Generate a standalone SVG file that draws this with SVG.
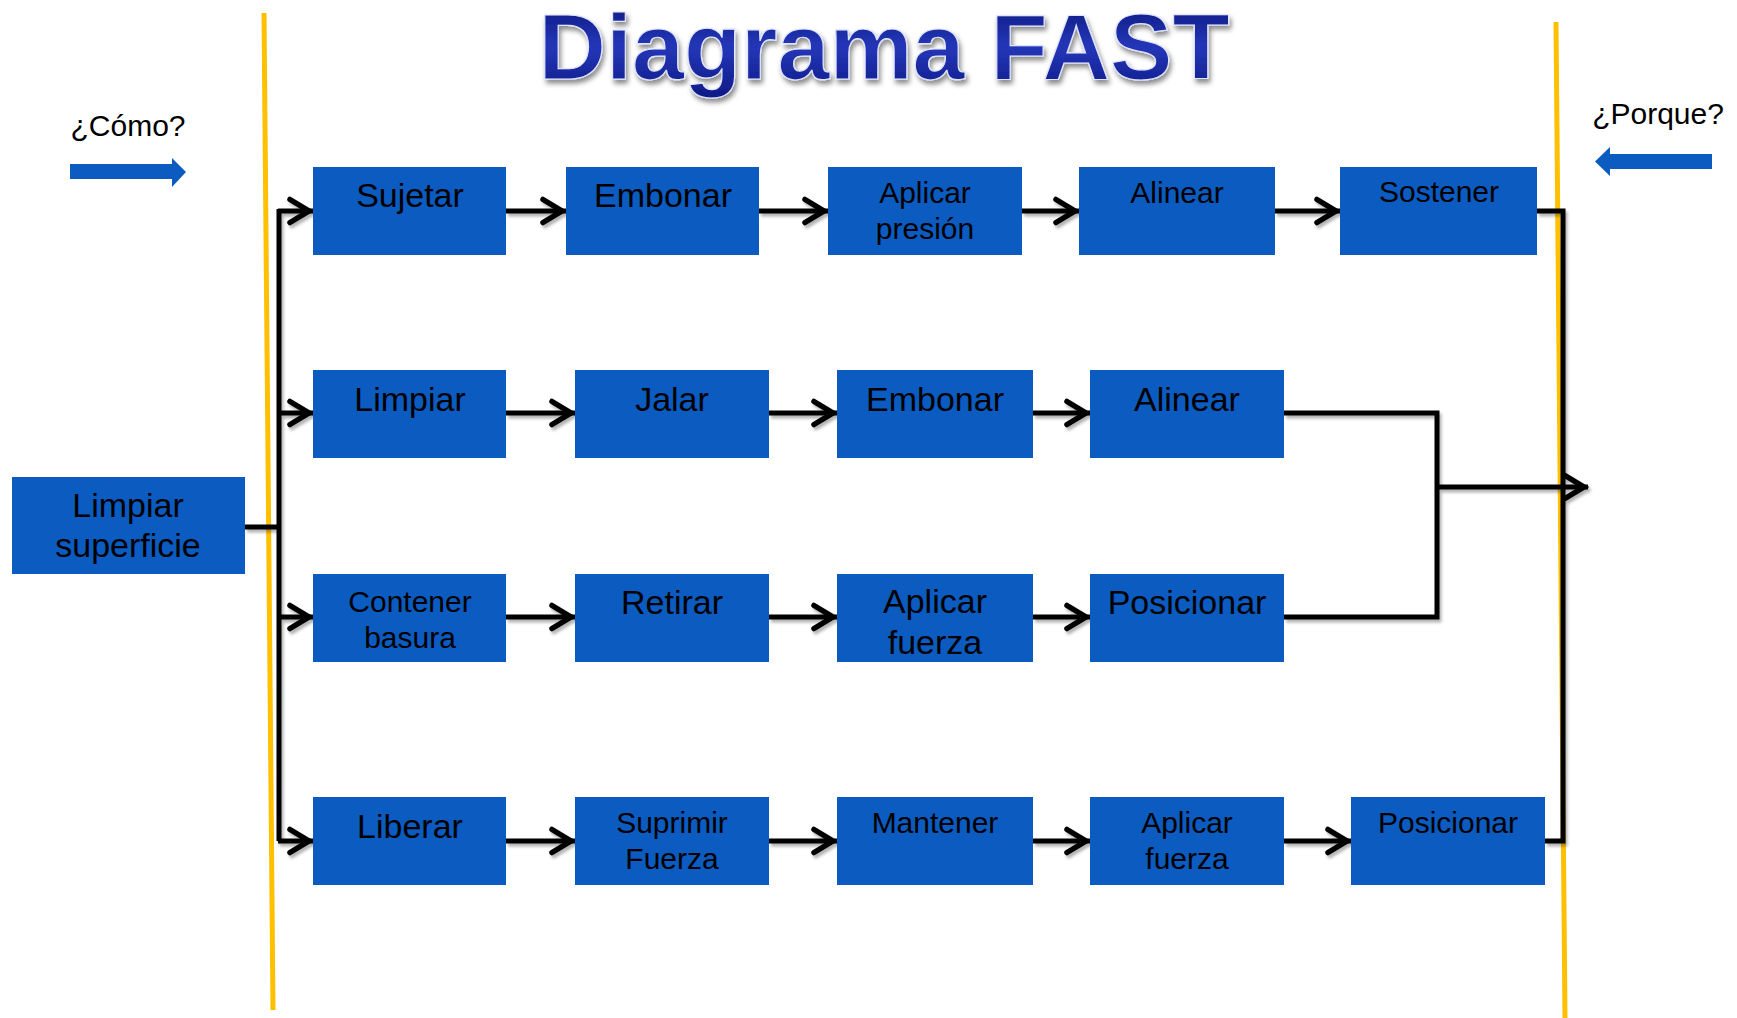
<svg xmlns="http://www.w3.org/2000/svg" width="1737" height="1018" viewBox="0 0 1737 1018">
<style>
.box{fill:#0B5BC1}
.t{font-family:"Liberation Sans",Arial,sans-serif;fill:#000;text-anchor:middle}
.s30{font-size:30px}
.s34{font-size:34px}
.c{fill:none;stroke:#000;stroke-width:5;stroke-linejoin:miter}
.ar{marker-end:url(#ah)}
.yl{stroke:#FFC000;stroke-width:5;fill:none}
</style>
<defs>
<marker id="ah" markerUnits="userSpaceOnUse" markerWidth="32" markerHeight="32" viewBox="-28 -16 32 32" refX="0" refY="0" orient="auto">
<path d="M-23 -11.5 L-4 0 L-23 11.5" fill="none" stroke="#000" stroke-width="5.5" stroke-linecap="round" stroke-linejoin="miter"/>
</marker>
<filter id="sh" x="-5%" y="-5%" width="110%" height="110%">
<feDropShadow dx="2" dy="3" stdDeviation="1.5" flood-color="#000" flood-opacity="0.3"/>
</filter>
<filter id="tsh" filterUnits="userSpaceOnUse" x="500" y="0" width="780" height="120">
<feDropShadow dx="2" dy="4" stdDeviation="2.5" flood-color="#000" flood-opacity="0.45"/>
</filter>
<linearGradient id="tg" x1="0" y1="0" x2="0" y2="1">
<stop offset="0" stop-color="#0A1675"/>
<stop offset="0.5" stop-color="#2436B8"/>
<stop offset="1" stop-color="#0E1A84"/>
</linearGradient>
</defs>
<rect width="1737" height="1018" fill="#fff"/>

<g id="title">
<text x="884" y="79" font-family="'Liberation Sans',Arial,sans-serif" font-weight="bold" font-size="93.5" text-anchor="middle" fill="url(#tg)" stroke="#dfe4ff" stroke-width="1.2" filter="url(#tsh)">Diagrama FAST</text>
</g>

<g id="guides">
<line class="yl" x1="264" y1="13" x2="273" y2="1010"/>
<line class="yl" x1="1556" y1="22" x2="1565" y2="1018"/>
</g>

<g id="como">
<text class="t s30" x="128" y="136">¿Cómo?</text>
<path d="M70 164 H172 V158 L186 172 L172 187 V179 H70 Z" fill="#0B5BC1"/>
</g>
<g id="porque">
<text class="t s30" x="1658" y="124">¿Porque?</text>
<path d="M1712 154 H1610 V147 L1595 161.5 L1610 176 V169 H1712 Z" fill="#0B5BC1"/>
</g>

<g id="connectors" filter="url(#sh)">
<path class="c" d="M245 527 H279"/>
<path class="c" d="M279 209 V841"/>
<path class="c ar" d="M278 211 H313"/>
<path class="c ar" d="M278 413 H313"/>
<path class="c ar" d="M278 617 H313"/>
<path class="c ar" d="M278 841 H313"/>
<path class="c ar" d="M506 211 H566"/>
<path class="c ar" d="M759 211 H828"/>
<path class="c ar" d="M1022 211 H1079"/>
<path class="c ar" d="M1275 211 H1340"/>
<path class="c" d="M1537 211 H1563 V841 H1545"/>
<path class="c ar" d="M506 413 H575"/>
<path class="c ar" d="M769 413 H837"/>
<path class="c ar" d="M1033 413 H1090"/>
<path class="c" d="M1284 413 H1437 V617 H1284"/>
<path class="c ar" d="M1437 487 H1588"/>
<path class="c ar" d="M506 617 H575"/>
<path class="c ar" d="M769 617 H837"/>
<path class="c ar" d="M1033 617 H1090"/>
<path class="c ar" d="M506 841 H575"/>
<path class="c ar" d="M769 841 H837"/>
<path class="c ar" d="M1033 841 H1090"/>
<path class="c ar" d="M1284 841 H1351"/>
</g>

<g id="n-limpiar-superficie"><rect class="box" x="12" y="477" width="233" height="97"/><text class="t s34" x="128" y="517">Limpiar</text><text class="t s34" x="128" y="557">superficie</text></g>

<g id="n-sujetar"><rect class="box" x="313" y="167" width="193" height="88"/><text class="t s34" x="410" y="207">Sujetar</text></g>
<g id="n-embonar1"><rect class="box" x="566" y="167" width="193" height="88"/><text class="t s34" x="663" y="207">Embonar</text></g>
<g id="n-aplicar-presion"><rect class="box" x="828" y="167" width="194" height="88"/><text class="t s30" x="925" y="203">Aplicar</text><text class="t s30" x="925" y="239">presión</text></g>
<g id="n-alinear1"><rect class="box" x="1079" y="167" width="196" height="88"/><text class="t s30" x="1177" y="203">Alinear</text></g>
<g id="n-sostener"><rect class="box" x="1340" y="167" width="197" height="88"/><text class="t s30" x="1439" y="202">Sostener</text></g>

<g id="n-limpiar"><rect class="box" x="313" y="370" width="193" height="88"/><text class="t s34" x="410" y="411">Limpiar</text></g>
<g id="n-jalar"><rect class="box" x="575" y="370" width="194" height="88"/><text class="t s34" x="672" y="411">Jalar</text></g>
<g id="n-embonar2"><rect class="box" x="837" y="370" width="196" height="88"/><text class="t s34" x="935" y="411">Embonar</text></g>
<g id="n-alinear2"><rect class="box" x="1090" y="370" width="194" height="88"/><text class="t s34" x="1187" y="411">Alinear</text></g>

<g id="n-contener-basura"><rect class="box" x="313" y="574" width="193" height="88"/><text class="t s30" x="410" y="612">Contener</text><text class="t s30" x="410" y="648">basura</text></g>
<g id="n-retirar"><rect class="box" x="575" y="574" width="194" height="88"/><text class="t s34" x="672" y="614">Retirar</text></g>
<g id="n-aplicar-fuerza1"><rect class="box" x="837" y="574" width="196" height="88"/><text class="t s34" x="935" y="613">Aplicar</text><text class="t s34" x="935" y="654">fuerza</text></g>
<g id="n-posicionar1"><rect class="box" x="1090" y="574" width="194" height="88"/><text class="t s34" x="1187" y="614">Posicionar</text></g>

<g id="n-liberar"><rect class="box" x="313" y="797" width="193" height="88"/><text class="t s34" x="410" y="838">Liberar</text></g>
<g id="n-suprimir-fuerza"><rect class="box" x="575" y="797" width="194" height="88"/><text class="t s30" x="672" y="833">Suprimir</text><text class="t s30" x="672" y="869">Fuerza</text></g>
<g id="n-mantener"><rect class="box" x="837" y="797" width="196" height="88"/><text class="t s30" x="935" y="833">Mantener</text></g>
<g id="n-aplicar-fuerza2"><rect class="box" x="1090" y="797" width="194" height="88"/><text class="t s30" x="1187" y="833">Aplicar</text><text class="t s30" x="1187" y="869">fuerza</text></g>
<g id="n-posicionar2"><rect class="box" x="1351" y="797" width="194" height="88"/><text class="t s30" x="1448" y="833">Posicionar</text></g>
</svg>
